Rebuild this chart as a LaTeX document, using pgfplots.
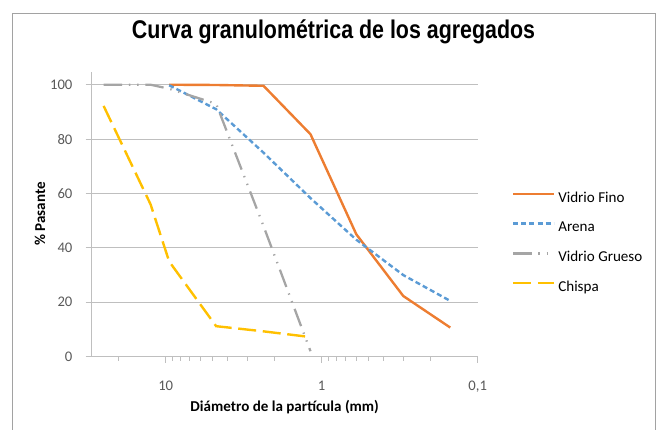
\documentclass[border=0pt]{standalone}
\usepackage{fontspec}
\setmainfont{Carlito}
\newfontfamily\titlefont{Liberation Sans}
\usepackage{graphicx}
\usepackage{pgfplots}
\pgfplotsset{compat=1.18}
\usepackage{pgfplotstable}

\definecolor{cfino}{HTML}{ED7D31}
\definecolor{carena}{HTML}{5B9BD5}
\definecolor{cgrueso}{HTML}{A5A5A5}
\definecolor{cchispa}{HTML}{FFC000}
\definecolor{cgrid}{HTML}{BFBFBF}
\definecolor{ctick}{HTML}{595959}

% diametro (mm) y % pasante
\pgfplotstableread{
d p
9.5 100
4.75 99.9
2.36 99.6
1.18 81.8
0.6 45
0.3 22.3
0.15 10.7
}\fino
\pgfplotstableread{
d p
9.5 99.8
4.75 91
2.36 75
1.18 58.3
0.6 43
0.3 30
0.15 20.5
}\arena
\pgfplotstableread{
d p
25 100
19 100
12.5 100
9.5 98.5
4.75 93
2.36 48
1.18 2
}\grueso
\pgfplotstableread{
d p
25 92.2
12.5 56
9.5 35
4.75 11.2
2.36 9.3
1.18 7.2
}\chispa

\begin{document}
\begin{tikzpicture}
\begin{axis}[
    scale only axis,
    width=289.5pt, height=213.75pt,
    xmode=log, x dir=reverse,
    xmin=0.1, xmax=29.8,
    ymin=0, ymax=104.8,
    axis x line*=bottom, axis y line*=left,
    axis line style={cgrid, line width=0.75pt},
    xtick={0.1,1,10}, xticklabels={{0,1},1,10},
    minor xtick={0.2,0.3,0.4,0.5,0.6,0.7,0.8,0.9,2,3,4,5,6,7,8,9,20},
    ytick={0,20,40,60,80,100}, yticklabels={0,20,40,60,80,100},
    ymajorgrids,
    major grid style={cgrid, line width=0.75pt},
    tick align=outside,
    major tick length=4.5pt, minor tick length=3pt,
    tick style={cgrid, line width=0.75pt},
    xticklabel shift=10.5pt, yticklabel shift=6.5pt,
    ticklabel style={font=\fontsize{11}{13}\selectfont, text=ctick},
    /pgf/number format/assume math mode=true,
    xlabel={\textbf{Diámetro de la partícula (mm)}},
    ylabel={\textbf{\% Pasante}},
    every axis x label/.style={at={(axis description cs:0.5,-0.1754)}, anchor=center, font=\fontsize{11.3}{13}\selectfont},
    every axis y label/.style={at={(axis description cs:-0.134,0.5)}, rotate=90, anchor=center, font=\fontsize{11.3}{13}\selectfont},
    title={\titlefont\bfseries\fontsize{19.2}{22}\selectfont\scalebox{0.836}[1]{Curva granulométrica de los agregados}},
    title style={at={(axis description cs:0.6266,1.0877)}, anchor=base, inner sep=0pt},
    legend style={at={(axis description cs:1.088,0.399)}, anchor=west,
        draw=none, fill=none, inner xsep=0pt, inner ysep=0pt,
        nodes={inner sep=0pt, text height=7.5pt, text depth=2pt},
        row sep=12.8pt,
        font=\fontsize{11.3}{13}\selectfont,
        /tikz/every odd column/.append style={column sep=2.5pt}},
    legend cell align=left,
    legend image code/.code={\draw[#1] (0pt,3.3pt) -- (30.5pt,3.3pt);},
]
\addplot[cfino, line width=1.8pt] table[x=d, y=p] {\fino};
\addplot[carena, line width=1.8pt, dash pattern=on 3.8pt off 2.3pt] table[x=d, y=p] {\arena};
\addplot[cgrueso, line width=1.7pt, dash pattern=on 13.8pt off 5.2pt on 1pt off 5.2pt on 1pt off 5.2pt] table[x=d, y=p] {\grueso};
\addplot[cchispa, line width=1.8pt, dash pattern=on 13.5pt off 5pt] table[x=d, y=p] {\chispa};
\legend{Vidrio Fino, Arena, Vidrio Grueso, Chispa}
\end{axis}
\draw[cgrid!85!black, line width=0.75pt] (-59.4pt,-70pt) -- (-59.4pt,257.5pt) -- (423pt,257.5pt) -- (423pt,-70pt);
\pgfresetboundingbox
\useasboundingbox (-68.8pt,-55pt) rectangle (425.5pt,267.5pt);
\end{tikzpicture}
\end{document}
